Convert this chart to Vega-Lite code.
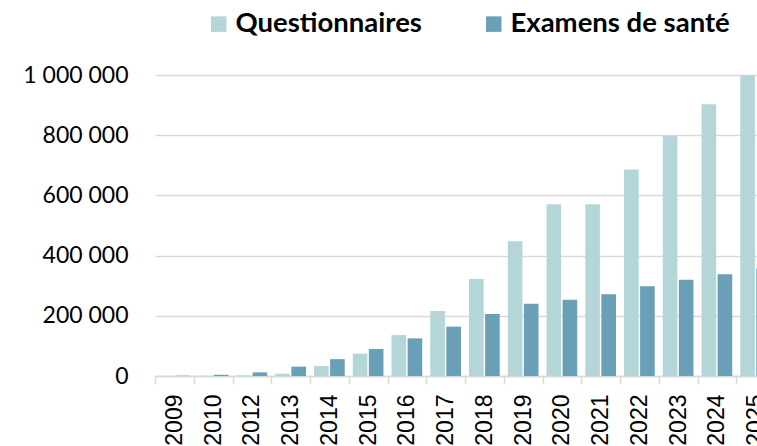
{
  "$schema": "https://vega.github.io/schema/vega-lite/v6.json",
  "autosize": {"type": "none"},
  "width": 602,
  "height": 301,
  "padding": {"left": 155, "top": 75, "right": 0, "bottom": 70},
  "background": "white",
  "config": {
    "view": {"stroke": null},
    "locale": {"number": {"decimal": ",", "thousands": " ", "grouping": [3], "currency": ["", " €"]}}
  },
  "data": {
    "values": [
      {"year": "2009", "type": "Questionnaires", "value": 500},
      {"year": "2009", "type": "Examens de santé", "value": 1000},
      {"year": "2010", "type": "Questionnaires", "value": 1000},
      {"year": "2010", "type": "Examens de santé", "value": 4000},
      {"year": "2012", "type": "Questionnaires", "value": 2000},
      {"year": "2012", "type": "Examens de santé", "value": 12000},
      {"year": "2013", "type": "Questionnaires", "value": 7500},
      {"year": "2013", "type": "Examens de santé", "value": 31000},
      {"year": "2014", "type": "Questionnaires", "value": 33000},
      {"year": "2014", "type": "Examens de santé", "value": 56000},
      {"year": "2015", "type": "Questionnaires", "value": 74000},
      {"year": "2015", "type": "Examens de santé", "value": 90000},
      {"year": "2016", "type": "Questionnaires", "value": 136000},
      {"year": "2016", "type": "Examens de santé", "value": 125000},
      {"year": "2017", "type": "Questionnaires", "value": 216000},
      {"year": "2017", "type": "Examens de santé", "value": 164000},
      {"year": "2018", "type": "Questionnaires", "value": 322000},
      {"year": "2018", "type": "Examens de santé", "value": 206000},
      {"year": "2019", "type": "Questionnaires", "value": 448000},
      {"year": "2019", "type": "Examens de santé", "value": 240000},
      {"year": "2020", "type": "Questionnaires", "value": 571000},
      {"year": "2020", "type": "Examens de santé", "value": 253000},
      {"year": "2021", "type": "Questionnaires", "value": 571000},
      {"year": "2021", "type": "Examens de santé", "value": 272000},
      {"year": "2022", "type": "Questionnaires", "value": 686000},
      {"year": "2022", "type": "Examens de santé", "value": 298000},
      {"year": "2023", "type": "Questionnaires", "value": 797000},
      {"year": "2023", "type": "Examens de santé", "value": 320000},
      {"year": "2024", "type": "Questionnaires", "value": 903000},
      {"year": "2024", "type": "Examens de santé", "value": 338000},
      {"year": "2025", "type": "Questionnaires", "value": 998000},
      {"year": "2025", "type": "Examens de santé", "value": 357000}
    ]
  },
  "mark": {"type": "bar"},
  "encoding": {
    "x": {
      "field": "year",
      "type": "nominal",
      "sort": null,
      "scale": {"range": [0, 620], "paddingInner": 0, "paddingOuter": 0},
      "axis": {
        "title": null,
        "labelAngle": -90,
        "labelFont": "Liberation Sans",
        "labelFontSize": 23,
        "labelColor": "#000000",
        "labelPadding": 10,
        "tickBand": "extent",
        "tickSize": 8,
        "tickColor": "#d9d9d9",
        "tickWidth": 1.5,
        "domainColor": "#d9d9d9",
        "domainWidth": 1.5,
        "grid": false
      }
    },
    "xOffset": {
      "field": "type",
      "type": "nominal",
      "sort": ["Questionnaires", "Examens de santé"],
      "scale": {"paddingInner": 0.09, "paddingOuter": 0.25}
    },
    "y": {
      "field": "value",
      "type": "quantitative",
      "scale": {"domain": [0, 1000000], "nice": false},
      "axis": {
        "title": null,
        "values": [0, 200000, 400000, 600000, 800000, 1000000],
        "format": ",d",
        "labelFont": "Lato",
        "labelFontSize": 23,
        "labelColor": "#000000",
        "labelPadding": 27,
        "ticks": false,
        "domain": false,
        "grid": true,
        "gridColor": "#d9d9d9",
        "gridWidth": 1.5
      }
    },
    "color": {
      "field": "type",
      "type": "nominal",
      "sort": ["Questionnaires", "Examens de santé"],
      "scale": {"domain": ["Questionnaires", "Examens de santé"], "range": ["#b4d6d8", "#6a9fb8"]},
      "legend": {
        "title": null,
        "orient": "none",
        "direction": "horizontal",
        "legendX": 50,
        "legendY": -65,
        "padding": 0,
        "symbolType": "square",
        "symbolSize": 240,
        "symbolStrokeWidth": 0,
        "symbolOpacity": 1,
        "labelFont": "Lato",
        "labelFontWeight": "bold",
        "labelFontSize": 27.5,
        "labelColor": "#000000",
        "labelOffset": 3,
        "labelLimit": 400,
        "columnPadding": 58
      }
    }
  }
}
